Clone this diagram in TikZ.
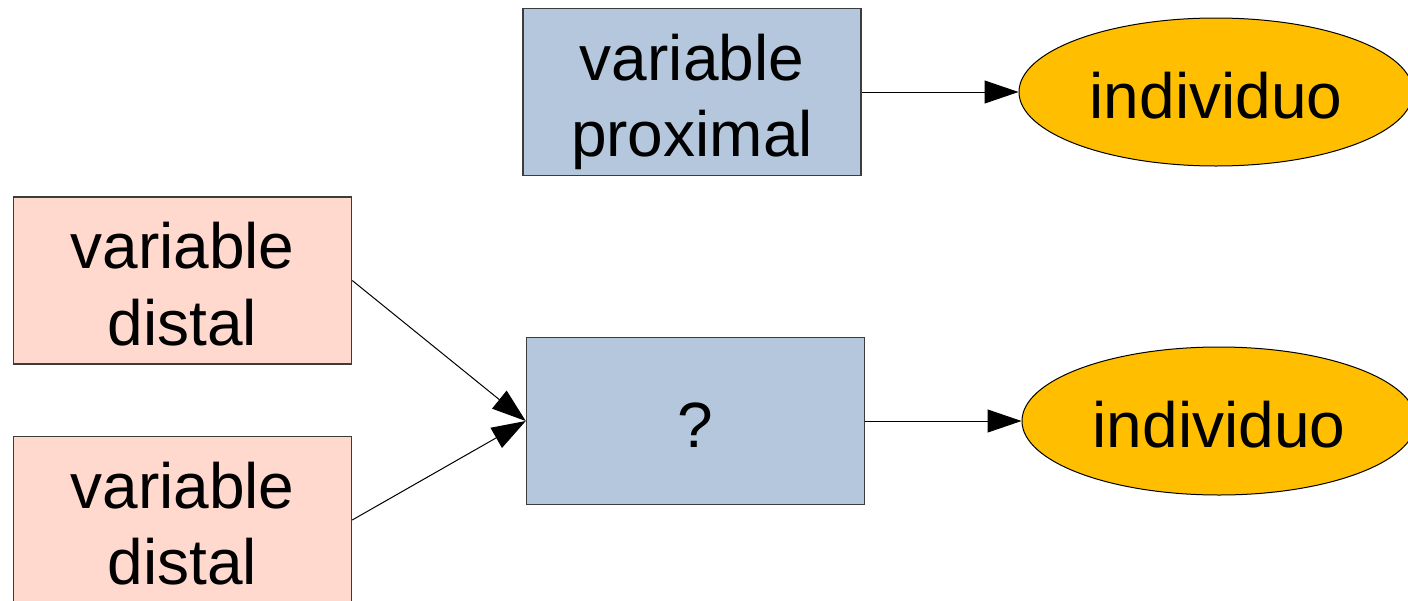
\documentclass[tikz,border=0pt]{standalone}
\usepackage{fontspec}
\setmainfont{Liberation Sans}
\usetikzlibrary{arrows.meta,shapes.geometric}

\definecolor{boxblue}{HTML}{B4C7DC}
\definecolor{boxpink}{HTML}{FFD8CE}
\definecolor{gold}{HTML}{FFBF00}
\definecolor{edge}{HTML}{3C3C3C}

% fixed top and bottom of every text block, so that all labels sit alike
\newcommand{\tophold}{\rule{0pt}{34pt}}
\newcommand{\bothold}{\rule[-7.5pt]{0pt}{7.5pt}}
\newcommand{\onehold}{\rule[-7.5pt]{0pt}{41.5pt}}

\tikzset{
  lbl/.style={font=\fontsize{32pt}{38.25pt}\selectfont, align=center, text=black},
  varbox/.style={lbl, rectangle, draw=edge, line width=0.75pt, inner sep=0pt,
                 minimum width=169pt, minimum height=83.5pt},
  proxbox/.style={varbox, fill=boxblue},
  distbox/.style={varbox, fill=boxpink},
  target/.style={lbl, ellipse, draw=black, line width=0.5pt, fill=gold, inner sep=0pt,
                 minimum width=197pt, minimum height=74pt},
  link/.style={draw=black, line width=0.5pt, -{Triangle[length=17pt,width=11.5pt]}}
}

\begin{document}
\begin{tikzpicture}[x=0.5pt, y=-0.5pt]
  \useasboundingbox (0,0) rectangle (1408,600);

  % upper row
  \node[proxbox] (prox) at (692,92) {\tophold variable\\proximal\bothold};
  \node[target]  (ind1) at (1216,92) {\onehold individuo};

  % distal variables on the left
  \node[distbox] (dist1) at (182.5,280.5) {\tophold variable\\distal\bothold};
  \node[distbox] (dist2) at (182.5,520) {\tophold variable\\distal\bothold};

  % unknown mediator and outcome
  \node[proxbox] (med)  at (695.5,421) {\onehold ?};
  \node[target]  (ind2) at (1219,421) {\onehold individuo};

  % connectors
  \draw[link] (prox.east) -- (ind1.west);
  \draw[link] (dist1.east) -- (med.west);
  \draw[link] (dist2.east) -- (med.west);
  \draw[link] (med.east) -- (ind2.west);
\end{tikzpicture}
\end{document}
